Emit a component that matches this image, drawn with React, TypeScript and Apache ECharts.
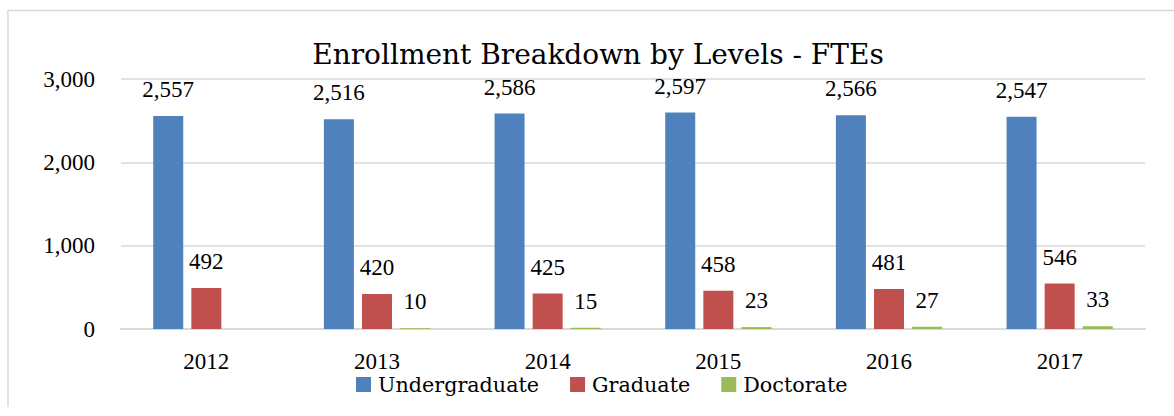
import React, { useEffect, useRef } from "react";
import * as echarts from "echarts";

const categories = ["2012", "2013", "2014", "2015", "2016", "2017"];
const undergraduate = [2557, 2516, 2586, 2597, 2566, 2547];
const graduate = [492, 420, 425, 458, 481, 546];
const doctorate: (number | null)[] = [null, 10, 15, 23, 27, 33];
const yTicks = [0, 1000, 2000, 3000];

const NUM_FONT = "'Liberation Serif', 'Times New Roman', serif";
const WORD_FONT = "'DejaVu Serif', serif";

export default function App() {
  const ref = useRef<HTMLDivElement>(null);
  useEffect(() => {
    if (!ref.current) return;
    const chart = echarts.init(ref.current, undefined, { renderer: "svg" });
    const label = {
      show: true,
      position: "top" as const,
      distance: 15,
      color: "#000",
      fontFamily: NUM_FONT,
      fontSize: 23,
      formatter: (p: any) => (p.value == null ? "" : Number(p.value).toLocaleString("en-US")),
    };
    chart.setOption({
      animation: false,
      backgroundColor: "#fff",
      graphic: [
        { type: "line", shape: { x1: 8, y1: 10.5, x2: 1174, y2: 10.5 }, style: { stroke: "#d9d9d9", lineWidth: 1.5 }, silent: true },
        { type: "line", shape: { x1: 8, y1: 10, x2: 8, y2: 407 }, style: { stroke: "#d9d9d9", lineWidth: 1.5 }, silent: true },
        {
          type: "text",
          x: 598,
          y: 54,
          style: {
            text: "Enrollment Breakdown by Levels - FTEs",
            font: `28px ${WORD_FONT}`,
            fill: "#000",
            align: "center",
            verticalAlign: "middle",
          },
        },
      ],
      legend: {
        left: 351,
        top: 369,
        itemWidth: 15,
        itemHeight: 15,
        itemGap: 31,
        icon: "rect",
        textStyle: { fontFamily: WORD_FONT, fontSize: 20.7, color: "#000", padding: [0, 0, 0, 2] },
        data: ["Undergraduate", "Graduate", "Doctorate"],
      },
      grid: { left: 121, right: 29, top: 79, bottom: 87, containLabel: false },
      xAxis: {
        type: "category",
        data: categories,
        axisLine: { show: true, lineStyle: { color: "#d9d9d9", width: 2 } },
        axisTick: { show: false },
        axisLabel: { color: "#000", fontFamily: NUM_FONT, fontSize: 23, margin: 21 },
      },
      yAxis: {
        type: "value",
        min: yTicks[0],
        max: yTicks[yTicks.length - 1],
        interval: 1000,
        axisLine: { show: false },
        axisTick: { show: false },
        splitLine: { lineStyle: { color: "#d9d9d9", width: 1.5 } },
        axisLabel: {
          color: "#000",
          fontFamily: NUM_FONT,
          fontSize: 23,
          margin: 26,
          formatter: (v: number) => v.toLocaleString("en-US"),
        },
      },
      series: [
        {
          name: "Undergraduate",
          type: "bar",
          data: undergraduate,
          barWidth: 30,
          barGap: "27%",
          itemStyle: { color: "#4f81bd" },
          label,
        },
        {
          name: "Graduate",
          type: "bar",
          data: graduate,
          barWidth: 30,
          barGap: "27%",
          itemStyle: { color: "#c0504d" },
          label,
        },
        {
          name: "Doctorate",
          type: "bar",
          data: doctorate,
          barWidth: 30,
          barGap: "27%",
          itemStyle: { color: "#9bbb59" },
          label,
        },
      ],
    });
    return () => chart.dispose();
  }, []);
  return (
    <div
      ref={ref}
      style={{ position: "absolute", left: 0, top: 0, width: 1174, height: 416 }}
    />
  );
}
